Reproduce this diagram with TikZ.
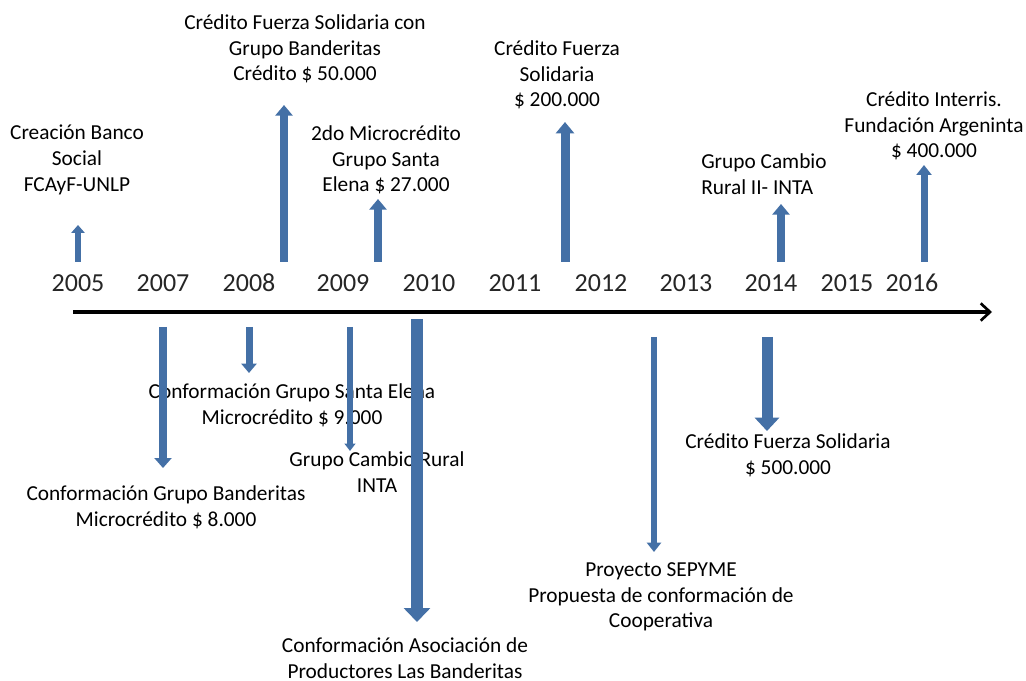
\documentclass[tikz,border=0pt]{standalone}
\usepackage{fontspec}
\setmainfont{Carlito}
\usetikzlibrary{arrows.meta}
\definecolor{arrowblue}{HTML}{4470A6}
\tikzset{
  yearlbl/.style={font=\fontsize{19.5pt}{22pt}\selectfont, inner sep=0pt, text=black!85},
  evlbl/.style={font=\fontsize{16pt}{19.3pt}\selectfont, inner sep=0pt, align=center, text=black},
  barrow/.style n args={3}{draw=arrowblue, line width=#1, -{Triangle[width=#2,length=#3]}},
  axisline/.style={draw=black, line width=2.6pt, -{Straight Barb[length=7pt,width=13pt,line width=2pt]}}
}
\begin{document}
\begin{tikzpicture}[x=0.75pt,y=-0.75pt]
\useasboundingbox (0,0) rectangle (1026,681);
% timeline
\coordinate (ax0) at (73,312);
\coordinate (ax1) at (992,312);
\draw[axisline] (ax0) -- (ax1);
% years
\node[yearlbl] (y2005) at (78,283) {2005};
\node[yearlbl] (y2007) at (163,283) {2007};
\node[yearlbl] (y2008) at (249,283) {2008};
\node[yearlbl] (y2009) at (343,283) {2009};
\node[yearlbl] (y2010) at (429,283) {2010};
\node[yearlbl] (y2011) at (515,283) {2011};
\node[yearlbl] (y2012) at (601,283) {2012};
\node[yearlbl] (y2013) at (686,283) {2013};
\node[yearlbl] (y2014) at (771,283) {2014};
\node[yearlbl] (y2015) at (847,283) {2015};
\node[yearlbl] (y2016) at (912,283) {2016};
% upper labels
\node[evlbl] (u1) at (77,160) {Creación Banco\\Social\\FCAyF-UNLP};
\node[evlbl] (u2) at (305,49) {Crédito Fuerza Solidaria con\\Grupo Banderitas\\Crédito \$ 50.000};
\node[evlbl] (u3) at (386,160) {2do Microcrédito\\Grupo Santa\\Elena \$ 27.000};
\node[evlbl] (u4) at (557,75) {Crédito Fuerza\\Solidaria\\\$ 200.000};
\node[evlbl, align=left, anchor=west] (u5) at (701,174) {Grupo Cambio\\Rural II- INTA};
\node[evlbl] (u6) at (934,126) {Crédito Interris.\\Fundación Argeninta\\\$ 400.000};
% lower labels
\node[evlbl] (l1) at (166,507) {Conformación Grupo Banderitas\\Microcrédito \$ 8.000};
\node[evlbl] (l2) at (292,405) {Conformación Grupo Santa Elena\\Microcrédito \$ 9.000};
\node[evlbl] (l3) at (377,472) {Grupo Cambio Rural\\INTA};
\node[evlbl] (l4) at (405,658) {Conformación Asociación de\\Productores Las Banderitas};
\node[evlbl] (l5) at (661,597) {Proyecto SEPYME\\Propuesta de conformación de\\Cooperativa};
\node[evlbl] (l6) at (788,455) {Crédito Fuerza Solidaria\\\$ 500.000};
% arrow end points
\coordinate (a1s) at (78,262);  \coordinate (a1e) at (78,225);
\coordinate (a2s) at (284,262); \coordinate (a2e) at (284,105);
\coordinate (a3s) at (378,262); \coordinate (a3e) at (378,199);
\coordinate (a4s) at (565,262); \coordinate (a4e) at (565,122);
\coordinate (a5s) at (781,262); \coordinate (a5e) at (781,204);
\coordinate (a6s) at (924,262); \coordinate (a6e) at (924,165);
\coordinate (d1s) at (163,327); \coordinate (d1e) at (163,468);
\coordinate (d2s) at (249,327); \coordinate (d2e) at (249,373);
\coordinate (d3s) at (350,327); \coordinate (d3e) at (350,451);
\coordinate (d4s) at (417,319); \coordinate (d4e) at (417,622);
\coordinate (d5s) at (654,337); \coordinate (d5e) at (654,552);
\coordinate (d6s) at (767,337); \coordinate (d6e) at (767,431);
% up arrows
\draw[barrow={4.5pt}{10pt}{6pt}] (a1s) -- (a1e);
\draw[barrow={6pt}{12.75pt}{8pt}] (a2s) -- (a2e);
\draw[barrow={6pt}{12.75pt}{8pt}] (a3s) -- (a3e);
\draw[barrow={6.75pt}{13.5pt}{8.5pt}] (a4s) -- (a4e);
\draw[barrow={6pt}{12.75pt}{8pt}] (a5s) -- (a5e);
\draw[barrow={5.25pt}{11.25pt}{7.5pt}] (a6s) -- (a6e);
% down arrows
\draw[barrow={6pt}{12.75pt}{7.5pt}] (d1s) -- (d1e);
\draw[barrow={5.25pt}{11.25pt}{7pt}] (d2s) -- (d2e);
\draw[barrow={4pt}{8pt}{5.5pt}] (d3s) -- (d3e);
\draw[barrow={8.5pt}{19.5pt}{10.5pt}] (d4s) -- (d4e);
\draw[barrow={4.5pt}{10.5pt}{7pt}] (d5s) -- (d5e);
\draw[barrow={8.25pt}{18pt}{10pt}] (d6s) -- (d6e);
\end{tikzpicture}
\end{document}
